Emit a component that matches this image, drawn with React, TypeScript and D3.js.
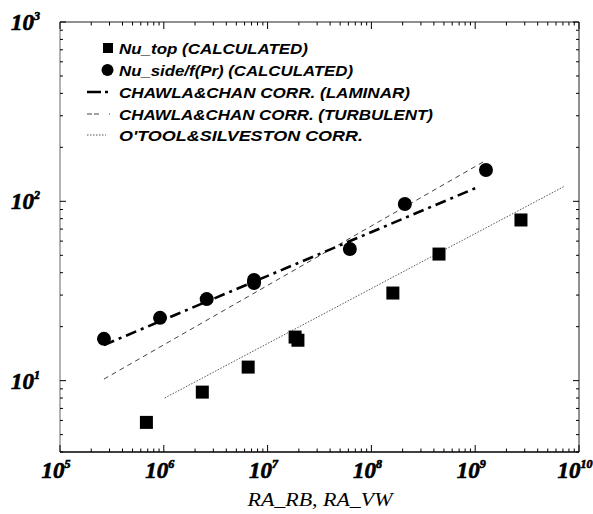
import React from "react";
import * as d3 from "d3";

// Nu_top (squares)
const topRa = [6.8e5, 2.35e6, 6.5e6, 1.84e7, 1.96e7, 1.61e8, 4.48e8, 2.76e9];
const topNu = [5.85, 8.63, 11.9, 17.5, 16.8, 30.8, 50.8, 78.7];

// Nu_side/f(Pr) (circles)
const sideRa = [2.65e5, 9.2e5, 2.59e6, 7.4e6, 7.4e6, 6.2e7, 2.1e8, 1.27e9];
const sideNu = [17.1, 22.4, 28.5, 36.4, 35.0, 54.2, 96.6, 149.6];

// correlation lines (end points)
const laminarRa = [2.65e5, 1.06e9];
const laminarNu = [15.8, 120];
const turbRa = [2.65e5, 1.19e9];
const turbNu = [10.2, 165.6];
const otoolRa = [1.02e6, 7.3e9];
const otoolNu = [8.0, 121.6];

const xDecades = [5, 6, 7, 8, 9, 10];
const yDecades = [1, 2, 3];

const legendLabels = [
  "Nu_top (CALCULATED)",
  "Nu_side/f(Pr) (CALCULATED)",
  "CHAWLA&CHAN CORR. (LAMINAR)",
  "CHAWLA&CHAN CORR. (TURBULENT)",
  "O'TOOL&SILVESTON CORR.",
];
const legendWidths = [189, 234, 291, 314, 244];

const W = 593, H = 514;
const L = 60, R = 579, T = 22, B = 452;

export default function App() {
  const x = d3.scaleLog().domain([1e5, 1e10]).range([L, R]);
  const y = d3.scaleLog().domain([4, 1000]).range([B, T]);

  const minorX: number[] = [];
  for (let e = 5; e < 10; e++) for (let m = 2; m <= 9; m++) minorX.push(m * Math.pow(10, e));
  const minorY: number[] = [];
  for (let e = 0; e < 3; e++) for (let m = 2; m <= 9; m++) { const v = m * Math.pow(10, e); if (v >= 4) minorY.push(v); }

  const line = (ra: number[], nu: number[]) =>
    d3.line<number>().x((_, i) => x(ra[i])).y((_, i) => y(nu[i]))(ra) || "";

  const serif = "'Liberation Serif', 'Times New Roman', serif";
  const sans = "'Liberation Sans', Arial, sans-serif";
  const legY = [48, 70, 92, 114, 135];

  return (
    <svg width={W} height={H} style={{ position: "absolute", left: 0, top: 0, background: "#fff" }}>
      <rect width={W} height={H} fill="#fff" />
      {/* frame */}
      <line x1={L} x2={R} y1={T} y2={T} stroke="#222" strokeWidth={1} />
      <line x1={R} x2={R} y1={T} y2={B} stroke="#222" strokeWidth={1} />
      <line x1={L} x2={L} y1={T} y2={B} stroke="#666" strokeWidth={1} />
      <line x1={L} x2={R} y1={B} y2={B} stroke="#000" strokeWidth={1.6} />

      {/* ticks */}
      {xDecades.map((e) => {
        const px = x(Math.pow(10, e));
        return (
          <g key={"xt" + e}>
            <line x1={px} x2={px} y1={B} y2={B - 7} stroke="#000" />
            <line x1={px} x2={px} y1={T} y2={T + 7} stroke="#000" />
          </g>
        );
      })}
      {minorX.map((v) => (
        <g key={"xm" + v}>
          <line x1={x(v)} x2={x(v)} y1={B} y2={B - 3.5} stroke="#000" />
          <line x1={x(v)} x2={x(v)} y1={T} y2={T + 3.5} stroke="#000" />
        </g>
      ))}
      {yDecades.map((e) => {
        const py = y(Math.pow(10, e));
        return (
          <g key={"yt" + e}>
            <line x1={L} x2={L + 6} y1={py} y2={py} stroke="#000" />
            <line x1={R} x2={R - 6} y1={py} y2={py} stroke="#000" />
          </g>
        );
      })}
      {minorY.map((v) => (
        <g key={"ym" + v}>
          <line x1={L} x2={L + 3} y1={y(v)} y2={y(v)} stroke="#000" />
          <line x1={R} x2={R - 3} y1={y(v)} y2={y(v)} stroke="#000" />
        </g>
      ))}

      {/* tick labels */}
      {xDecades.map((e) => (
        <text key={"xl" + e} x={x(Math.pow(10, e)) - 4} y={478} textAnchor="middle"
          fontFamily={serif} fontWeight="bold" fontStyle="italic" fontSize={23}
          stroke="#000" strokeWidth={0.7}>
          <tspan>10</tspan>
          <tspan dy={-10} fontSize={12}>{e}</tspan>
        </text>
      ))}
      {yDecades.map((e) => (
        <text key={"yl" + e} x={11} y={y(Math.pow(10, e)) + 8} textAnchor="start"
          fontFamily={serif} fontWeight="bold" fontStyle="italic" fontSize={23}
          stroke="#000" strokeWidth={0.7}>
          <tspan>10</tspan>
          <tspan dy={-10} fontSize={12}>{e}</tspan>
        </text>
      ))}
      <text x={320} y={506} textAnchor="middle" fontFamily={serif} fontStyle="italic" fontSize={18}
        textLength={145} lengthAdjust="spacingAndGlyphs">RA_RB, RA_VW</text>

      {/* correlation lines */}
      <path d={line(otoolRa, otoolNu)} fill="none" stroke="#555" strokeWidth={1} strokeDasharray="1.5,1.5" />
      <path d={line(turbRa, turbNu)} fill="none" stroke="#444" strokeWidth={1} strokeDasharray="5,4" />
      <path d={line(laminarRa, laminarNu)} fill="none" stroke="#000" strokeWidth={2.6} strokeDasharray="11,5,3,5" />

      {/* points */}
      {topRa.map((r, i) => (
        <rect key={"s" + i} x={x(r) - 6.5} y={y(topNu[i]) - 6.5} width={13} height={13} fill="#000" />
      ))}
      {sideRa.map((r, i) => (
        <circle key={"c" + i} cx={x(r)} cy={y(sideNu[i])} r={7} fill="#000" />
      ))}

      {/* legend */}
      <rect x={103} y={legY[0] - 5} width={10} height={10} fill="#000" />
      <circle cx={107.5} cy={legY[1]} r={6} fill="#000" />
      <line x1={87} x2={112} y1={legY[2]} y2={legY[2]} stroke="#000" strokeWidth={2.6} strokeDasharray="14,4,3,5" />
      <line x1={87} x2={110} y1={legY[3]} y2={legY[3]} stroke="#444" strokeWidth={1} strokeDasharray="5,2,5,10,1.5" />
      <line x1={87} x2={106} y1={legY[4]} y2={legY[4]} stroke="#555" strokeWidth={1} strokeDasharray="1.5,1.5" />
      {legendLabels.map((t, i) => (
        <text key={"lg" + i} x={119} y={legY[i] + 5.5} fontFamily={sans} fontStyle="italic" fontWeight="bold"
          fontSize={15.5} textLength={legendWidths[i]} lengthAdjust="spacingAndGlyphs">{t}</text>
      ))}
    </svg>
  );
}
